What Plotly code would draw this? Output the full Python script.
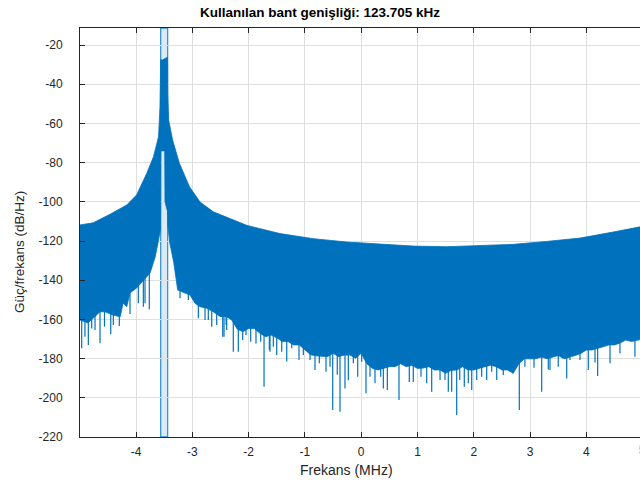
import plotly.graph_objects as go

# ---------------- data ----------------
title_text = "Kullanılan bant genişliği: 123.705 kHz"
x_label = "Frekans (MHz)"
y_label = "Güç/frekans (dB/Hz)"

x_ticks = [-4, -3, -2, -1, 0, 1, 2, 3, 4, 5]
y_ticks = [-220, -200, -180, -160, -140, -120, -100, -80, -60, -40, -20]

# occupied band (MHz)
band_center = -3.50
band_width = 0.123705

# upper envelope of the PSD (MHz, dB/Hz)
x_upper = [-4.995, -4.76, -4.46, -4.165, -3.99, -3.93, -3.81, -3.69, -3.60, -3.575,
           -3.565, -3.562, -3.53, -3.50, -3.47, -3.44, -3.437, -3.42, -3.35, -3.23,
           -3.05, -2.863, -2.627, -2.034, -1.442, -0.851, -0.258, 0.334, 0.925, 1.519,
           2.110, 2.702, 3.295, 3.886, 4.478, 4.952, 5.0]
y_upper = [-111.8, -110.7, -106.3, -101.6, -96.5, -93.1, -85.5, -77.0, -66.8, -52.0,
           -38.0, -27.5, -27.6, -27.0, -26.6, -26.2, -45.0, -58.3, -68.5, -80.3,
           -92.3, -100.1, -105.1, -112.0, -116.2, -118.8, -120.5, -121.7, -122.6, -122.9,
           -122.4, -121.7, -120.2, -118.5, -115.4, -112.8, -112.5]

# lower envelope of the dense PSD trace (MHz, dB/Hz)
x_lower = [-4.995, -4.853, -4.698, -4.64, -4.55, -4.41, -4.28, -4.23, -4.165, -4.107,
           -3.99, -3.875, -3.81, -3.75, -3.66, -3.60, -3.565, -3.56, -3.49, -3.485,
           -3.44, -3.435, -3.40, -3.33, -3.26, -3.04, -2.952, -2.863, -2.744, -2.627,
           -2.508, -2.389,
           -2.3, -2.2, -2.1, -2.0, -1.9, -1.8, -1.7, -1.6, -1.5, -1.4, -1.3, -1.2, -1.1,
           -1.0, -0.9, -0.8, -0.7, -0.6, -0.5, -0.4, -0.3, -0.2, -0.1, 0.0, 0.1, 0.2,
           0.3, 0.4, 0.5, 0.6, 0.7, 0.8, 0.9, 1.0, 1.1, 1.2, 1.3, 1.4, 1.5, 1.6, 1.7,
           1.8, 1.9, 2.0, 2.1, 2.2, 2.3, 2.4, 2.5, 2.6, 2.7, 2.8, 2.9, 3.0, 3.1, 3.2,
           3.3, 3.4, 3.5, 3.6, 3.7, 3.8, 3.9, 4.0, 4.1, 4.2, 4.3, 4.4, 4.5, 4.6, 4.7,
           4.8, 4.9, 5.0]
y_lower = [-160.3, -161.8, -157.8, -156.1, -156.1, -157.8, -158.6, -151.6, -153.5, -146.5,
           -144.0, -139.9, -138.2, -136.3, -128.2, -119.5, -114.0, -74.0, -74.0, -100.0,
           -105.0, -112.0, -121.0, -131.0, -145.0, -147.6, -151.8, -153.5, -154.3, -156.1,
           -158.5, -158.6,
           -160.3, -165.0, -166.3, -164.6, -164.6, -167.0, -168.8, -168.0, -169.4, -171.3,
           -171.3, -173.0, -173.0, -175.6, -178.0, -178.6, -178.8, -179.0, -177.3, -179.0,
           -178.2, -178.2, -179.8, -177.3, -182.6, -185.0, -185.8, -185.0, -184.1, -184.1,
           -182.6, -184.1, -183.4, -185.0, -184.8, -184.1, -185.8, -185.8, -187.5, -186.0,
           -185.8, -184.1, -185.8, -185.8, -185.0, -184.1, -183.4, -184.1, -185.8, -185.8,
           -187.5, -182.6, -180.1, -180.1, -180.1, -179.2, -180.1, -179.2, -178.4, -180.1,
           -179.2, -178.4, -177.4, -175.6, -175.6, -174.7, -173.9, -173.0, -173.0, -172.0,
           -170.5, -171.3, -170.5, -170.0]

# downward spikes below the dense trace (MHz, dB/Hz at spike tip)
spike_x = [-4.965, -4.907, -4.847, -4.787, -4.728, -4.64, -4.56, -4.449, -4.403, -4.297,
           -4.107, -3.959, -3.87, -3.84, -3.764,
           -3.218, -3.071, -2.893, -2.774, -2.716, -2.655, -2.567, -2.46, -2.437, -2.40,
           -2.389, -2.272, -2.183, -2.105, -2.046, -1.963, -1.869, -1.785, -1.726, -1.632,
           -1.62, -1.561, -1.501, -1.412, -1.323, -1.234, -1.105, -1.028, -0.909, -0.821,
           -0.744, -0.625, -0.554, -0.506, -0.425, -0.377, -0.288, -0.229, -0.140, -0.062,
           0.009, 0.085, 0.156, 0.245, 0.346, 0.393, 0.464, 0.671, 0.854, 0.925, 1.062,
           1.163, 1.252, 1.40, 1.488, 1.547, 1.607, 1.696, 1.75, 1.831, 1.902, 1.963,
           2.052, 2.14, 2.229, 2.318, 2.407, 2.524, 2.691, 2.808, 2.908, 3.069, 3.206,
           3.323, 3.353, 3.50, 3.65, 3.708, 3.886, 4.034, 4.153, 4.2, 4.419, 4.596, 4.862]
spike_tip = [-174.7, -168.8, -173.0, -164.6, -165.4, -172.2, -163.7, -167.6, -162.9, -163.4,
             -157.2, -151.8, -153.5, -151.8, -154.8,
             -149.2, -150.1, -159.4, -160.3, -160.3, -163.7, -162.8, -168.8, -168.8, -162.9,
             -165.4, -176.5, -176.5, -170.5, -168.0, -171.4, -172.3, -171.4, -194.3, -175.6,
             -176.5, -173.9, -178.2, -176.5, -181.5, -174.7, -180.7, -178.2, -180.7, -185.8,
             -182.4, -186.7, -184.1, -206.2, -188.2, -207.1, -195.2, -191.0, -182.4, -189.2,
             -181.6, -197.7, -189.3, -192.6, -189.3, -195.2, -196.0, -201.1, -191.9, -191.8, -189.3,
             -192.6, -196.9, -190.9, -190.9, -196.9, -196.9, -208.8, -190.9, -194.3, -192.6, -196.0,
             -190.9, -189.3, -190.9, -186.7, -190.9, -188.3, -187.5, -206.2, -184.1, -184.7, -196.9,
             -185.6, -185.8, -184.1, -190.1, -180.7, -180.7, -185.8, -182.0, -188.9, -182.4, -177.3, -179.0]

# ---------------- styling ----------------
BLUE = "#0072BD"
AX = "#262626"
GRID = "#DFDFDF"
FONT = "Liberation Sans, Arial, Helvetica, sans-serif"
X_RANGE = [-4.995, 4.952]
Y_RANGE = [-220, -11.3]
SPIKE_TOP = -130

fig = go.Figure()

# PSD body
fig.add_trace(go.Scatter(
    x=x_upper + x_lower[::-1],
    y=y_upper + y_lower[::-1],
    mode="lines", fill="toself", fillcolor=BLUE,
    line=dict(color=BLUE, width=0.8), hoverinfo="skip", showlegend=False))

# spikes
sx, sy = [], []
for xv, tv in zip(spike_x, spike_tip):
    sx += [xv, xv, None]
    sy += [SPIKE_TOP, tv, None]
fig.add_trace(go.Scatter(x=sx, y=sy, mode="lines",
                         line=dict(color=BLUE, width=1.2),
                         hoverinfo="skip", showlegend=False))

# occupied-band patch
fig.add_shape(type="rect", xref="x", yref="paper",
              x0=band_center - band_width / 2, x1=band_center + band_width / 2,
              y0=0, y1=1, fillcolor="rgba(0,114,189,0.14)",
              line=dict(color="rgba(0,114,189,0.75)", width=1.3), layer="between")

fig.update_layout(
    width=640, height=484,
    margin=dict(l=80, r=0, t=28, b=47),
    paper_bgcolor="white", plot_bgcolor="white",
    font=dict(family=FONT, size=12, color=AX),
    showlegend=False,
    hovermode=False,
    xaxis=dict(range=X_RANGE, tickvals=x_ticks, ticktext=[str(v) for v in x_ticks],
               ticks="inside", ticklen=5, tickcolor=AX, tickwidth=1,
               showline=True, linecolor=AX, linewidth=1, mirror="ticks",
               showgrid=True, gridcolor=GRID, gridwidth=1, zeroline=False,
               tickfont=dict(size=12, color=AX), ticklabelstandoff=4),
    yaxis=dict(range=Y_RANGE, tickvals=y_ticks, ticktext=[str(v) for v in y_ticks],
               ticks="inside", ticklen=5, tickcolor=AX, tickwidth=1,
               showline=True, linecolor=AX, linewidth=1,
               showgrid=True, gridcolor=GRID, gridwidth=1, zeroline=False,
               tickfont=dict(size=12, color=AX), ticklabelstandoff=14),
    annotations=[
        dict(text="<b>" + title_text + "</b>", xref="paper", yref="paper",
             x=(320 - 80) / 560, y=(437 - 12) / 409, xanchor="center", yanchor="middle",
             showarrow=False, font=dict(size=13.5, color="black", family=FONT)),
        dict(text=x_label, xref="paper", yref="paper",
             x=(346 - 80) / 560, y=(437 - 470) / 409, xanchor="center", yanchor="middle",
             showarrow=False, font=dict(size=14, color=AX, family=FONT)),
        dict(text=y_label, xref="paper", yref="paper", textangle=-90,
             x=(19 - 80) / 560, y=(437 - 252) / 409, xanchor="center", yanchor="middle",
             showarrow=False, font=dict(size=13.5, color=AX, family=FONT)),
        dict(text="5", xref="paper", yref="paper",
             x=(5 - X_RANGE[0]) / (X_RANGE[1] - X_RANGE[0]), y=(437 - 450) / 409,
             xanchor="center", yanchor="middle", showarrow=False,
             font=dict(size=12, color=AX, family=FONT)),
    ],
)

fig.write_html("out.html", config={"displayModeBar": False, "staticPlot": True},
               post_script="document.body.style.margin='0';document.body.style.padding='0';")
